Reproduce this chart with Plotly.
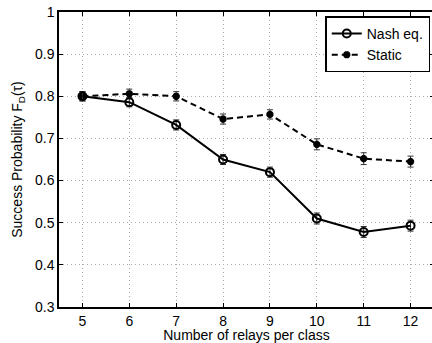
import plotly.graph_objects as go

relays = [5, 6, 7, 8, 9, 10, 11, 12]
nash = [0.800, 0.786, 0.732, 0.650, 0.620, 0.510, 0.478, 0.493]
nash_err = [0.011, 0.011, 0.012, 0.012, 0.012, 0.013, 0.013, 0.013]
static = [0.800, 0.806, 0.800, 0.746, 0.757, 0.686, 0.652, 0.645]
static_err = [0.011, 0.011, 0.011, 0.012, 0.011, 0.013, 0.014, 0.013]
y_ticks = [0.3, 0.4, 0.5, 0.6, 0.7, 0.8, 0.9, 1]
y_labels = ["0.3", "0.4", "0.5", "0.6", "0.7", "0.8", "0.9", "1"]

FONT = "Liberation Sans, Arial, Helvetica"

fig = go.Figure()
fig.add_trace(go.Scatter(
    x=relays, y=static, name="Static", mode="lines+markers",
    line=dict(color="black", width=2, dash="6px,4px"),
    marker=dict(symbol="asterisk-open", size=6, line=dict(color="black", width=2.5)),
    error_y=dict(type="data", array=static_err, color="#333", thickness=1, width=3),
))
fig.add_trace(go.Scatter(
    x=relays, y=nash, name="Nash eq.", mode="lines+markers",
    line=dict(color="black", width=2),
    marker=dict(symbol="circle-open", size=8, line=dict(color="black", width=2)),
    error_y=dict(type="data", array=nash_err, color="#333", thickness=1, width=3),
))

axis_common = dict(
    showline=True, linecolor="black", linewidth=1.5, mirror="ticks",
    ticks="inside", ticklen=4, tickcolor="black",
    showgrid=True, gridcolor="#aaa", griddash="1px,3px", gridwidth=1,
    zeroline=False,
    tickfont=dict(family=FONT, size=14, color="black"),
)
fig.update_xaxes(range=[4.5, 12.5], tickvals=relays, **axis_common,
                 title=dict(text="Number of relays per class", standoff=1,
                            font=dict(family=FONT, size=14, color="black")))
fig.update_yaxes(range=[0.3, 1.0], tickvals=y_ticks, ticktext=y_labels, **axis_common,
                 title=dict(text="Success Probability F<sub>D</sub>(τ)", standoff=9,
                            font=dict(family=FONT, size=14, color="black")))

fig.update_layout(
    width=436, height=343,
    margin=dict(l=59, r=0, t=12, b=36),
    paper_bgcolor="white", plot_bgcolor="white",
    showlegend=True,
    legend=dict(x=0.99, y=0.985, xanchor="right", yanchor="top",
                bgcolor="white", bordercolor="black", borderwidth=1.5,
                traceorder="reversed",
                font=dict(family=FONT, size=14, color="black"),
                tracegroupgap=0, itemwidth=30),
)

fig.write_html("out.html", config={"displayModeBar": False},
               post_script="document.body.style.margin='0';document.body.style.overflow='hidden';")
